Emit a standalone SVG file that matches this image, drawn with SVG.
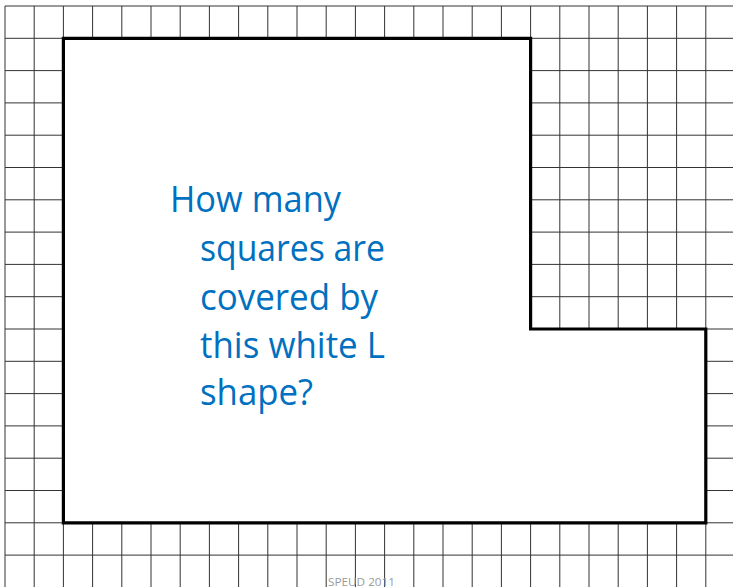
<svg xmlns="http://www.w3.org/2000/svg" width="733" height="587" viewBox="0 0 733 587">
<style>
.grid{stroke:#333;stroke-width:1;fill:none}
.shape{fill:#fff;stroke:#000;stroke-width:3.2;stroke-linejoin:miter}
.q{font-family:"Open Sans","Liberation Sans",sans-serif;font-size:37px;fill:#0070C0}
.foot{font-family:"Open Sans","Liberation Sans",sans-serif;font-size:11px;fill:#999}
</style>
<rect width="733" height="587" fill="#fff"/>
<g id="grid">
<path class="grid" d="M5,6V587M34.2,6V587M63.4,6V587M92.6,6V587M121.8,6V587M151,6V587M180.2,6V587M209.4,6V587M238.6,6V587M267.8,6V587M297,6V587M326.2,6V587M355.4,6V587M384.6,6V587M413.8,6V587M443,6V587M472.2,6V587M501.4,6V587M530.6,6V587M559.8,6V587M589,6V587M618.2,6V587M647.4,6V587M676.6,6V587M705.8,6V587"/>
<path class="grid" d="M5,6H733M5,38.3H733M5,70.6H733M5,102.9H733M5,135.2H733M5,167.5H733M5,199.8H733M5,232.1H733M5,264.4H733M5,296.7H733M5,329H733M5,361.3H733M5,393.6H733M5,425.9H733M5,458.2H733M5,490.5H733M5,522.8H733M5,555.1H733"/>
</g>
<g id="lshape">
<path class="shape" d="M63.4,38.3H530.6V329H705.8V522.8H63.4Z"/>
</g>
<g id="question">
<text class="q" x="170" y="212" textLength="171" lengthAdjust="spacingAndGlyphs">How many</text>
<text class="q" x="200" y="260.8" textLength="185" lengthAdjust="spacingAndGlyphs">squares are</text>
<text class="q" x="200" y="309.6" textLength="178" lengthAdjust="spacingAndGlyphs">covered by</text>
<text class="q" x="200" y="358.4" textLength="185" lengthAdjust="spacingAndGlyphs">this white L</text>
<text class="q" x="200" y="405" textLength="113" lengthAdjust="spacingAndGlyphs">shape?</text>
</g>
<text class="foot" x="328" y="585.5" textLength="67" lengthAdjust="spacingAndGlyphs">SPEUD 2011</text>
</svg>
